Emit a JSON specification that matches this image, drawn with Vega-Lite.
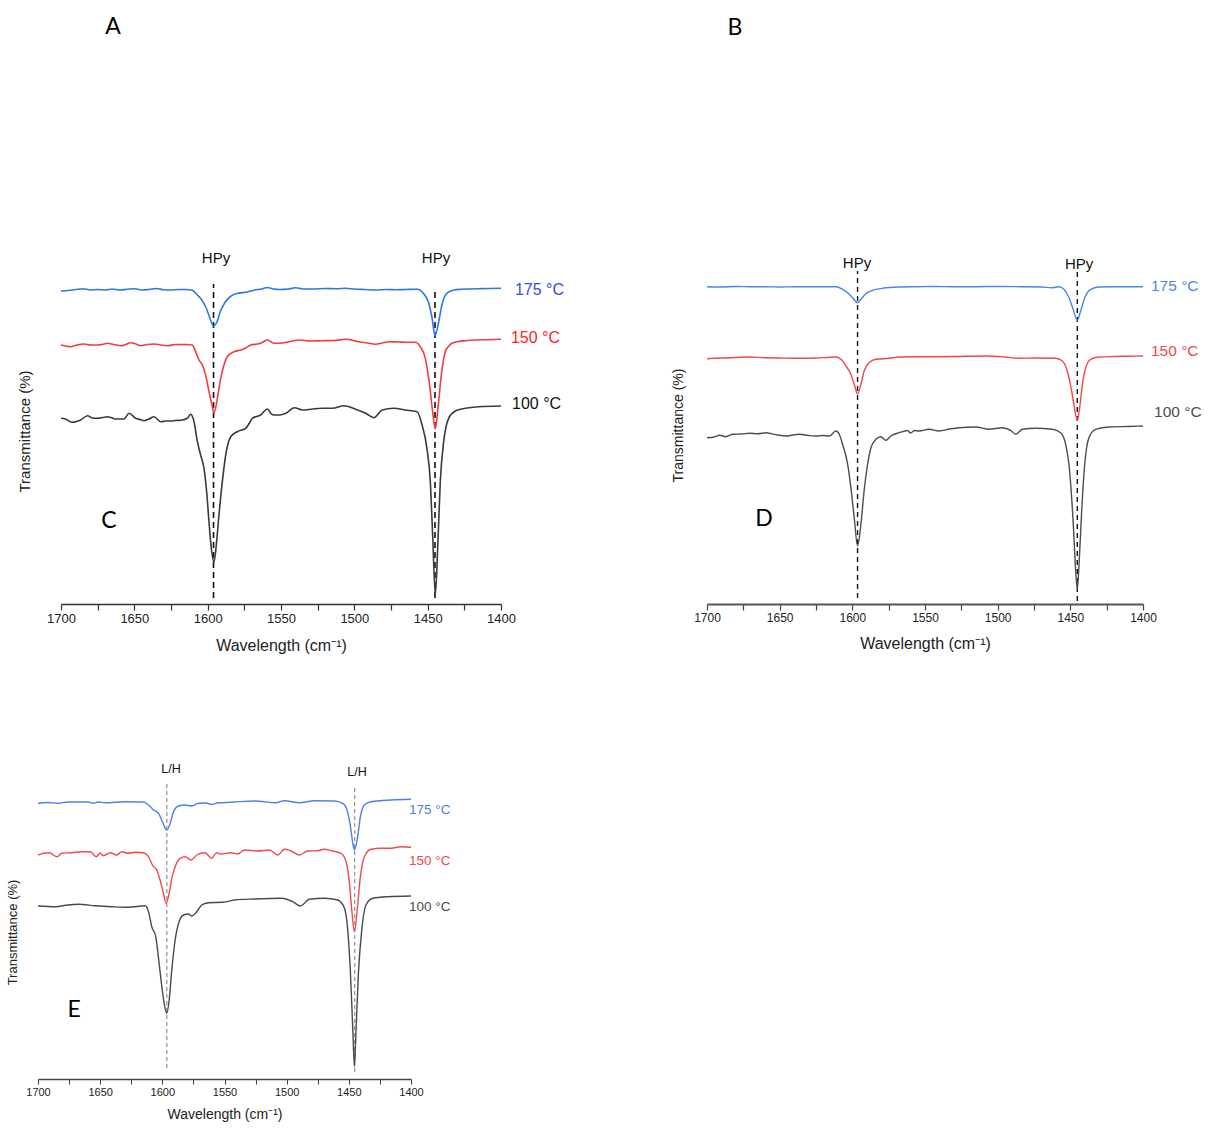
{
  "$schema": "https://vega.github.io/schema/vega-lite/v6.json",
  "background": "white",
  "padding": {"left": 6, "top": 15, "right": 0, "bottom": 5},
  "config": {
    "view": {"stroke": null},
    "font": "Liberation Sans",
    "axis": {"grid": false}
  },
  "datasets": {
    "c_lines": [
      {"temp":"175 °C","wn":1700,"t":313},{"temp":"175 °C","wn":1695,"t":313.5},{"temp":"175 °C","wn":1690,"t":314.5},{"temp":"175 °C","wn":1685,"t":315.3},{"temp":"175 °C","wn":1680,"t":314},{"temp":"175 °C","wn":1675,"t":314.5},{"temp":"175 °C","wn":1670,"t":314},{"temp":"175 °C","wn":1665,"t":315},{"temp":"175 °C","wn":1660,"t":314},{"temp":"175 °C","wn":1655,"t":314.7},{"temp":"175 °C","wn":1650,"t":315.3},{"temp":"175 °C","wn":1645,"t":314},{"temp":"175 °C","wn":1640,"t":314.5},{"temp":"175 °C","wn":1635,"t":315.5},{"temp":"175 °C","wn":1630,"t":314.3},{"temp":"175 °C","wn":1625,"t":314},{"temp":"175 °C","wn":1620,"t":314.5},{"temp":"175 °C","wn":1615,"t":314.5},{"temp":"175 °C","wn":1611,"t":314},{"temp":"175 °C","wn":1607,"t":309},{"temp":"175 °C","wn":1604,"t":304},{"temp":"175 °C","wn":1601,"t":296},{"temp":"175 °C","wn":1598.5,"t":286},{"temp":"175 °C","wn":1596,"t":278},{"temp":"175 °C","wn":1594,"t":281},{"temp":"175 °C","wn":1591.5,"t":292},{"temp":"175 °C","wn":1588,"t":302},{"temp":"175 °C","wn":1584,"t":308},{"temp":"175 °C","wn":1580,"t":310.5},{"temp":"175 °C","wn":1573,"t":312},{"temp":"175 °C","wn":1568,"t":314},{"temp":"175 °C","wn":1563,"t":315},{"temp":"175 °C","wn":1559.5,"t":316.5},{"temp":"175 °C","wn":1555,"t":315},{"temp":"175 °C","wn":1551,"t":314.5},{"temp":"175 °C","wn":1545,"t":315},{"temp":"175 °C","wn":1540,"t":316.3},{"temp":"175 °C","wn":1535,"t":315},{"temp":"175 °C","wn":1528,"t":315},{"temp":"175 °C","wn":1520,"t":315.5},{"temp":"175 °C","wn":1512,"t":315.3},{"temp":"175 °C","wn":1506,"t":315.7},{"temp":"175 °C","wn":1500,"t":315},{"temp":"175 °C","wn":1493,"t":314.5},{"temp":"175 °C","wn":1485.5,"t":314},{"temp":"175 °C","wn":1478,"t":314.5},{"temp":"175 °C","wn":1472,"t":314.3},{"temp":"175 °C","wn":1465,"t":314.5},{"temp":"175 °C","wn":1457,"t":314.7},{"temp":"175 °C","wn":1453,"t":310.7},{"temp":"175 °C","wn":1449.5,"t":302},{"temp":"175 °C","wn":1447,"t":286},{"temp":"175 °C","wn":1445,"t":268.5},{"temp":"175 °C","wn":1442.5,"t":282},{"temp":"175 °C","wn":1440.3,"t":299},{"temp":"175 °C","wn":1437,"t":310.7},{"temp":"175 °C","wn":1432,"t":314},{"temp":"175 °C","wn":1427,"t":314.7},{"temp":"175 °C","wn":1422,"t":315},{"temp":"175 °C","wn":1415,"t":315.3},{"temp":"175 °C","wn":1408,"t":315.5},{"temp":"175 °C","wn":1400,"t":315.7},

      {"temp":"150 °C","wn":1700,"t":259},{"temp":"150 °C","wn":1697,"t":258},{"temp":"150 °C","wn":1693.4,"t":257.3},{"temp":"150 °C","wn":1689,"t":259},{"temp":"150 °C","wn":1684.3,"t":260},{"temp":"150 °C","wn":1680,"t":259},{"temp":"150 °C","wn":1675.2,"t":259},{"temp":"150 °C","wn":1672,"t":259.5},{"temp":"150 °C","wn":1668.4,"t":260.7},{"temp":"150 °C","wn":1664,"t":259.5},{"temp":"150 °C","wn":1659.3,"t":258.3},{"temp":"150 °C","wn":1656,"t":259.5},{"temp":"150 °C","wn":1652.5,"t":261.3},{"temp":"150 °C","wn":1649,"t":260},{"temp":"150 °C","wn":1645.7,"t":258.3},{"temp":"150 °C","wn":1641,"t":259.5},{"temp":"150 °C","wn":1636.6,"t":260},{"temp":"150 °C","wn":1632,"t":259},{"temp":"150 °C","wn":1627.5,"t":258.3},{"temp":"150 °C","wn":1622,"t":259.5},{"temp":"150 °C","wn":1617,"t":259.5},{"temp":"150 °C","wn":1613.9,"t":259.5},{"temp":"150 °C","wn":1610.5,"t":259},{"temp":"150 °C","wn":1608.2,"t":252.3},{"temp":"150 °C","wn":1605.9,"t":244},{"temp":"150 °C","wn":1603.6,"t":239},{"temp":"150 °C","wn":1601.4,"t":229},{"temp":"150 °C","wn":1599.1,"t":212.3},{"temp":"150 °C","wn":1596.8,"t":197.3},{"temp":"150 °C","wn":1595.7,"t":191.3},{"temp":"150 °C","wn":1593.4,"t":205.7},{"temp":"150 °C","wn":1591.1,"t":225.7},{"temp":"150 °C","wn":1588.9,"t":239},{"temp":"150 °C","wn":1586.6,"t":247.3},{"temp":"150 °C","wn":1582,"t":252.3},{"temp":"150 °C","wn":1577.5,"t":254},{"temp":"150 °C","wn":1574,"t":256},{"temp":"150 °C","wn":1570.7,"t":259},{"temp":"150 °C","wn":1566,"t":260},{"temp":"150 °C","wn":1563.9,"t":260.7},{"temp":"150 °C","wn":1559.3,"t":264},{"temp":"150 °C","wn":1554.8,"t":260.7},{"temp":"150 °C","wn":1551,"t":260.7},{"temp":"150 °C","wn":1544.3,"t":262.3},{"temp":"150 °C","wn":1537.6,"t":264},{"temp":"150 °C","wn":1530,"t":263},{"temp":"150 °C","wn":1522,"t":263.3},{"temp":"150 °C","wn":1514,"t":263.5},{"temp":"150 °C","wn":1505.9,"t":264.7},{"temp":"150 °C","wn":1497,"t":262.3},{"temp":"150 °C","wn":1491,"t":261},{"temp":"150 °C","wn":1485.5,"t":259.7},{"temp":"150 °C","wn":1481,"t":261},{"temp":"150 °C","wn":1476.5,"t":262.3},{"temp":"150 °C","wn":1470,"t":262},{"temp":"150 °C","wn":1464,"t":261.7},{"temp":"150 °C","wn":1458.4,"t":261.7},{"temp":"150 °C","wn":1455,"t":257.3},{"temp":"150 °C","wn":1451.6,"t":245.7},{"temp":"150 °C","wn":1449,"t":222.3},{"temp":"150 °C","wn":1446.6,"t":192.3},{"temp":"150 °C","wn":1444.8,"t":175},{"temp":"150 °C","wn":1443,"t":195.7},{"temp":"150 °C","wn":1440.7,"t":229},{"temp":"150 °C","wn":1438,"t":252.3},{"temp":"150 °C","wn":1435.5,"t":258},{"temp":"150 °C","wn":1433.5,"t":260.7},{"temp":"150 °C","wn":1429,"t":262.5},{"temp":"150 °C","wn":1424.4,"t":263.3},{"temp":"150 °C","wn":1418,"t":264},{"temp":"150 °C","wn":1410,"t":264.3},{"temp":"150 °C","wn":1400,"t":264.7},

      {"temp":"100 °C","wn":1700,"t":185.7},{"temp":"100 °C","wn":1697,"t":185},{"temp":"100 °C","wn":1692.3,"t":181.7},{"temp":"100 °C","wn":1689.5,"t":182.5},{"temp":"100 °C","wn":1686.6,"t":184},{"temp":"100 °C","wn":1682,"t":188.3},{"temp":"100 °C","wn":1678.5,"t":186},{"temp":"100 °C","wn":1675.2,"t":185.7},{"temp":"100 °C","wn":1671.5,"t":186.5},{"temp":"100 °C","wn":1668.4,"t":187.3},{"temp":"100 °C","wn":1665,"t":186},{"temp":"100 °C","wn":1662.7,"t":185},{"temp":"100 °C","wn":1657,"t":185},{"temp":"100 °C","wn":1653.6,"t":190.7},{"temp":"100 °C","wn":1649.1,"t":185.7},{"temp":"100 °C","wn":1646,"t":184.5},{"temp":"100 °C","wn":1643.4,"t":183.3},{"temp":"100 °C","wn":1640,"t":185},{"temp":"100 °C","wn":1636.6,"t":187.3},{"temp":"100 °C","wn":1632,"t":182.3},{"temp":"100 °C","wn":1628.5,"t":183},{"temp":"100 °C","wn":1625.2,"t":183},{"temp":"100 °C","wn":1621.8,"t":183.5},{"temp":"100 °C","wn":1618.4,"t":183.7},{"temp":"100 °C","wn":1613.9,"t":185.7},{"temp":"100 °C","wn":1611.6,"t":189.7},{"temp":"100 °C","wn":1609.3,"t":182.3},{"temp":"100 °C","wn":1607,"t":162.3},{"temp":"100 °C","wn":1604.8,"t":149},{"temp":"100 °C","wn":1602.5,"t":135.7},{"temp":"100 °C","wn":1600.7,"t":112.3},{"temp":"100 °C","wn":1599.1,"t":82.3},{"temp":"100 °C","wn":1597.5,"t":55.7},{"temp":"100 °C","wn":1595.7,"t":42},{"temp":"100 °C","wn":1593.9,"t":62.3},{"temp":"100 °C","wn":1592.3,"t":89},{"temp":"100 °C","wn":1590,"t":122.3},{"temp":"100 °C","wn":1587.7,"t":149},{"temp":"100 °C","wn":1584.3,"t":167.3},{"temp":"100 °C","wn":1579.8,"t":172.3},{"temp":"100 °C","wn":1574.1,"t":175.7},{"temp":"100 °C","wn":1571.5,"t":181},{"temp":"100 °C","wn":1569.5,"t":185.7},{"temp":"100 °C","wn":1563.9,"t":189},{"temp":"100 °C","wn":1559.3,"t":195},{"temp":"100 °C","wn":1556.5,"t":190},{"temp":"100 °C","wn":1554.8,"t":189},{"temp":"100 °C","wn":1551,"t":189},{"temp":"100 °C","wn":1546.6,"t":190.7},{"temp":"100 °C","wn":1541,"t":196.3},{"temp":"100 °C","wn":1535.3,"t":194},{"temp":"100 °C","wn":1528.5,"t":195},{"temp":"100 °C","wn":1521.7,"t":195.7},{"temp":"100 °C","wn":1514.9,"t":195.7},{"temp":"100 °C","wn":1507,"t":198.3},{"temp":"100 °C","wn":1499.1,"t":194.7},{"temp":"100 °C","wn":1492.3,"t":190.7},{"temp":"100 °C","wn":1486.6,"t":186.3},{"temp":"100 °C","wn":1481,"t":194},{"temp":"100 °C","wn":1473.1,"t":195.7},{"temp":"100 °C","wn":1465.2,"t":194},{"temp":"100 °C","wn":1457.2,"t":192.3},{"temp":"100 °C","wn":1453.8,"t":179},{"temp":"100 °C","wn":1450.5,"t":155.7},{"temp":"100 °C","wn":1448.2,"t":122.3},{"temp":"100 °C","wn":1446.6,"t":69},{"temp":"100 °C","wn":1444.8,"t":9},{"temp":"100 °C","wn":1443,"t":62.3},{"temp":"100 °C","wn":1441.4,"t":122.3},{"temp":"100 °C","wn":1439.1,"t":162.3},{"temp":"100 °C","wn":1435.7,"t":185.7},{"temp":"100 °C","wn":1431.2,"t":193},{"temp":"100 °C","wn":1424.4,"t":195.7},{"temp":"100 °C","wn":1415.4,"t":197.3},{"temp":"100 °C","wn":1400,"t":198}
    ],
    "c_guides": [
      {"wn":1596,"t":6,"t2":320},
      {"wn":1445,"t":6,"t2":316}
    ],
    "c_text": [
      {"kind":"peak","wn":1594.3,"t":346,"label":"HPy"},
      {"kind":"peak","wn":1444.3,"t":346,"label":"HPy"},
      {"kind":"temp","wn":1390.5,"t":314,"temp":"175 °C"},
      {"kind":"temp","wn":1393.2,"t":266,"temp":"150 °C"},
      {"kind":"temp","wn":1392.5,"t":200,"temp":"100 °C"},
      {"kind":"panel","wn":1667.3,"t":83,"label":"C"},
      {"kind":"panel","wn":1664.5,"t":577,"label":"A"}
    ],
    "d_lines": [
      {"temp":"175 °C","wn":1700,"t":317.3},{"temp":"175 °C","wn":1690,"t":317},{"temp":"175 °C","wn":1680,"t":317.5},{"temp":"175 °C","wn":1670,"t":317.2},{"temp":"175 °C","wn":1660,"t":317.3},{"temp":"175 °C","wn":1650,"t":317},{"temp":"175 °C","wn":1640,"t":317.3},{"temp":"175 °C","wn":1630,"t":317.2},{"temp":"175 °C","wn":1620,"t":317.3},{"temp":"175 °C","wn":1611.3,"t":317.3},{"temp":"175 °C","wn":1606.7,"t":314.7},{"temp":"175 °C","wn":1603.2,"t":311.3},{"temp":"175 °C","wn":1599.8,"t":306.3},{"temp":"175 °C","wn":1596.4,"t":301.3},{"temp":"175 °C","wn":1594.1,"t":304.7},{"temp":"175 °C","wn":1590.7,"t":310.3},{"temp":"175 °C","wn":1586.1,"t":313.7},{"temp":"175 °C","wn":1579.2,"t":315.7},{"temp":"175 °C","wn":1567.8,"t":317},{"temp":"175 °C","wn":1555,"t":317.3},{"temp":"175 °C","wn":1545,"t":317.5},{"temp":"175 °C","wn":1530,"t":317.2},{"temp":"175 °C","wn":1515,"t":317.3},{"temp":"175 °C","wn":1500,"t":317.5},{"temp":"175 °C","wn":1485,"t":317.3},{"temp":"175 °C","wn":1470,"t":317},{"temp":"175 °C","wn":1462.4,"t":316.3},{"temp":"175 °C","wn":1457.8,"t":317.3},{"temp":"175 °C","wn":1454.4,"t":314.7},{"temp":"175 °C","wn":1450.9,"t":306.3},{"temp":"175 °C","wn":1448.1,"t":294.7},{"temp":"175 °C","wn":1445.2,"t":283.7},{"temp":"175 °C","wn":1442.9,"t":293},{"temp":"175 °C","wn":1440.1,"t":306.3},{"temp":"175 °C","wn":1436,"t":314.7},{"temp":"175 °C","wn":1430.3,"t":317},{"temp":"175 °C","wn":1420,"t":317.3},{"temp":"175 °C","wn":1410,"t":317.3},{"temp":"175 °C","wn":1400,"t":317.3},

      {"temp":"150 °C","wn":1700,"t":245.3},{"temp":"150 °C","wn":1690,"t":246},{"temp":"150 °C","wn":1680,"t":246.5},{"temp":"150 °C","wn":1670.7,"t":247},{"temp":"150 °C","wn":1660,"t":246.3},{"temp":"150 °C","wn":1650,"t":246},{"temp":"150 °C","wn":1636.4,"t":245.7},{"temp":"150 °C","wn":1625,"t":246},{"temp":"150 °C","wn":1618,"t":246.5},{"temp":"150 °C","wn":1611.3,"t":247},{"temp":"150 °C","wn":1607.8,"t":244.7},{"temp":"150 °C","wn":1604.4,"t":238},{"temp":"150 °C","wn":1601,"t":229.7},{"temp":"150 °C","wn":1598.7,"t":219.7},{"temp":"150 °C","wn":1596.4,"t":210.3},{"temp":"150 °C","wn":1594.1,"t":219.7},{"temp":"150 °C","wn":1591.9,"t":233},{"temp":"150 °C","wn":1588.4,"t":241.3},{"temp":"150 °C","wn":1583.8,"t":244.7},{"temp":"150 °C","wn":1574.7,"t":245.7},{"temp":"150 °C","wn":1567.8,"t":247},{"temp":"150 °C","wn":1555,"t":247.3},{"temp":"150 °C","wn":1547.2,"t":247.3},{"temp":"150 °C","wn":1530,"t":247.5},{"temp":"150 °C","wn":1508.3,"t":248},{"temp":"150 °C","wn":1495,"t":247},{"temp":"150 °C","wn":1485.3,"t":245.7},{"temp":"150 °C","wn":1475,"t":246},{"temp":"150 °C","wn":1460.1,"t":245.7},{"temp":"150 °C","wn":1455.5,"t":243},{"temp":"150 °C","wn":1452.1,"t":233},{"temp":"150 °C","wn":1449.1,"t":213},{"temp":"150 °C","wn":1447.2,"t":196.3},{"temp":"150 °C","wn":1445.2,"t":183.7},{"temp":"150 °C","wn":1443.6,"t":196.3},{"temp":"150 °C","wn":1441.7,"t":219.7},{"temp":"150 °C","wn":1439.4,"t":236.3},{"temp":"150 °C","wn":1436,"t":244.7},{"temp":"150 °C","wn":1430.3,"t":247},{"temp":"150 °C","wn":1420,"t":247.5},{"temp":"150 °C","wn":1410,"t":247.8},{"temp":"150 °C","wn":1400,"t":248},

      {"temp":"100 °C","wn":1700,"t":166.3},{"temp":"100 °C","wn":1695,"t":167},{"temp":"100 °C","wn":1691.3,"t":168.7},{"temp":"100 °C","wn":1687,"t":167.3},{"temp":"100 °C","wn":1682.2,"t":169.7},{"temp":"100 °C","wn":1676,"t":170},{"temp":"100 °C","wn":1670.7,"t":170.7},{"temp":"100 °C","wn":1665,"t":170.3},{"temp":"100 °C","wn":1659.3,"t":171.3},{"temp":"100 °C","wn":1655,"t":170},{"temp":"100 °C","wn":1651.3,"t":169},{"temp":"100 °C","wn":1645.6,"t":168},{"temp":"100 °C","wn":1641,"t":169},{"temp":"100 °C","wn":1636.4,"t":169.7},{"temp":"100 °C","wn":1630,"t":168.5},{"temp":"100 °C","wn":1625,"t":168},{"temp":"100 °C","wn":1620,"t":168.5},{"temp":"100 °C","wn":1615.8,"t":168},{"temp":"100 °C","wn":1611.3,"t":173},{"temp":"100 °C","wn":1609,"t":169.7},{"temp":"100 °C","wn":1606.7,"t":159.7},{"temp":"100 °C","wn":1603.2,"t":139.7},{"temp":"100 °C","wn":1601,"t":116.3},{"temp":"100 °C","wn":1598.7,"t":86.3},{"temp":"100 °C","wn":1596.4,"t":58},{"temp":"100 °C","wn":1594.1,"t":79.7},{"temp":"100 °C","wn":1591.9,"t":113},{"temp":"100 °C","wn":1589.5,"t":139.7},{"temp":"100 °C","wn":1587.2,"t":156.3},{"temp":"100 °C","wn":1583.8,"t":164.7},{"temp":"100 °C","wn":1580.4,"t":167.3},{"temp":"100 °C","wn":1577,"t":163.7},{"temp":"100 °C","wn":1573.5,"t":168},{"temp":"100 °C","wn":1567.8,"t":171.3},{"temp":"100 °C","wn":1562,"t":173.5},{"temp":"100 °C","wn":1560,"t":171},{"temp":"100 °C","wn":1557,"t":173.5},{"temp":"100 °C","wn":1554.1,"t":173},{"temp":"100 °C","wn":1547.2,"t":174.7},{"temp":"100 °C","wn":1540.4,"t":173},{"temp":"100 °C","wn":1533,"t":175},{"temp":"100 °C","wn":1526.6,"t":176.3},{"temp":"100 °C","wn":1515.1,"t":177},{"temp":"100 °C","wn":1506,"t":174.7},{"temp":"100 °C","wn":1496.8,"t":176.3},{"temp":"100 °C","wn":1491.1,"t":173.7},{"temp":"100 °C","wn":1487.6,"t":169.7},{"temp":"100 °C","wn":1483,"t":174.7},{"temp":"100 °C","wn":1473.9,"t":175.7},{"temp":"100 °C","wn":1462.4,"t":174.7},{"temp":"100 °C","wn":1456.7,"t":171.3},{"temp":"100 °C","wn":1453.2,"t":159.7},{"temp":"100 °C","wn":1450.5,"t":133},{"temp":"100 °C","wn":1448.1,"t":83},{"temp":"100 °C","wn":1446.3,"t":33},{"temp":"100 °C","wn":1445.2,"t":14.7},{"temp":"100 °C","wn":1444,"t":39.7},{"temp":"100 °C","wn":1442.2,"t":93},{"temp":"100 °C","wn":1440.1,"t":139.7},{"temp":"100 °C","wn":1437.2,"t":166.3},{"temp":"100 °C","wn":1432.6,"t":174.7},{"temp":"100 °C","wn":1423.4,"t":177},{"temp":"100 °C","wn":1410,"t":177.5},{"temp":"100 °C","wn":1400,"t":178}
    ],
    "d_guides": [
      {"wn":1596.4,"t":6,"t2":333},
      {"wn":1445.2,"t":3,"t2":333}
    ],
    "d_text": [
      {"kind":"peak","wn":1596.8,"t":341,"label":"HPy"},
      {"kind":"peak","wn":1444,"t":340,"label":"HPy"},
      {"kind":"temp","wn":1394.5,"t":318,"temp":"175 °C"},
      {"kind":"temp","wn":1394.5,"t":253,"temp":"150 °C"},
      {"kind":"temp","wn":1392.4,"t":192,"temp":"100 °C"},
      {"kind":"panel","wn":1660.8,"t":85,"label":"D"},
      {"kind":"panel","wn":1680.7,"t":576,"label":"B"}
    ],
    "e_lines": [
      {"temp":"175 °C","wn":1700,"t":275.7},{"temp":"175 °C","wn":1692,"t":276.5},{"temp":"175 °C","wn":1684,"t":275.7},{"temp":"175 °C","wn":1676,"t":277},{"temp":"175 °C","wn":1668,"t":277},{"temp":"175 °C","wn":1660,"t":277},{"temp":"175 °C","wn":1655.6,"t":275.7},{"temp":"175 °C","wn":1651.5,"t":277},{"temp":"175 °C","wn":1646,"t":276.3},{"temp":"175 °C","wn":1630,"t":277.3},{"temp":"175 °C","wn":1615.2,"t":277},{"temp":"175 °C","wn":1611.1,"t":274},{"temp":"175 °C","wn":1607.1,"t":269},{"temp":"175 °C","wn":1603.1,"t":265.7},{"temp":"175 °C","wn":1599.9,"t":257.3},{"temp":"175 °C","wn":1597.7,"t":250.7},{"temp":"175 °C","wn":1596.4,"t":249},{"temp":"175 °C","wn":1593.7,"t":255.7},{"temp":"175 °C","wn":1591,"t":267.3},{"temp":"175 °C","wn":1587,"t":273},{"temp":"175 °C","wn":1581.7,"t":274},{"temp":"175 °C","wn":1576.3,"t":273},{"temp":"175 °C","wn":1571,"t":275.7},{"temp":"175 °C","wn":1565,"t":276},{"temp":"175 °C","wn":1560.3,"t":274.5},{"temp":"175 °C","wn":1555,"t":276.3},{"temp":"175 °C","wn":1551,"t":276.3},{"temp":"175 °C","wn":1542,"t":277},{"temp":"175 °C","wn":1525.9,"t":278},{"temp":"175 °C","wn":1508.5,"t":276.3},{"temp":"175 °C","wn":1501.8,"t":278.3},{"temp":"175 °C","wn":1489.7,"t":276.3},{"temp":"175 °C","wn":1477.7,"t":278.3},{"temp":"175 °C","wn":1461.6,"t":278},{"temp":"175 °C","wn":1454.9,"t":275.7},{"temp":"175 °C","wn":1451.4,"t":269},{"temp":"175 °C","wn":1448.7,"t":252.3},{"temp":"175 °C","wn":1446.8,"t":235.7},{"temp":"175 °C","wn":1445.5,"t":229},{"temp":"175 °C","wn":1443.3,"t":239},{"temp":"175 °C","wn":1440.7,"t":262.3},{"temp":"175 °C","wn":1437.5,"t":274},{"temp":"175 °C","wn":1432.1,"t":277.3},{"temp":"175 °C","wn":1416,"t":279},{"temp":"175 °C","wn":1400,"t":279.7},

      {"temp":"150 °C","wn":1700,"t":224},{"temp":"150 °C","wn":1695.5,"t":225.7},{"temp":"150 °C","wn":1691,"t":226.3},{"temp":"150 °C","wn":1684.7,"t":222.3},{"temp":"150 °C","wn":1680.7,"t":225.7},{"temp":"150 °C","wn":1672.6,"t":226.3},{"temp":"150 °C","wn":1664.6,"t":227.3},{"temp":"150 °C","wn":1657.9,"t":227.3},{"temp":"150 °C","wn":1653.2,"t":222.3},{"temp":"150 °C","wn":1650,"t":225.7},{"temp":"150 °C","wn":1647.3,"t":223.3},{"temp":"150 °C","wn":1641.9,"t":226.3},{"temp":"150 °C","wn":1636.6,"t":224},{"temp":"150 °C","wn":1632.5,"t":227.3},{"temp":"150 °C","wn":1627.2,"t":225.7},{"temp":"150 °C","wn":1621.8,"t":226.7},{"temp":"150 °C","wn":1615.2,"t":226.3},{"temp":"150 °C","wn":1611.1,"t":222.3},{"temp":"150 °C","wn":1608,"t":214},{"temp":"150 °C","wn":1604.5,"t":209},{"temp":"150 °C","wn":1601.8,"t":199},{"temp":"150 °C","wn":1599.1,"t":185.7},{"temp":"150 °C","wn":1597,"t":175.7},{"temp":"150 °C","wn":1594.5,"t":185.7},{"temp":"150 °C","wn":1592.4,"t":200.7},{"temp":"150 °C","wn":1589.7,"t":212.3},{"temp":"150 °C","wn":1585.7,"t":220.7},{"temp":"150 °C","wn":1581.7,"t":222.3},{"temp":"150 °C","wn":1576.9,"t":219},{"temp":"150 °C","wn":1572.3,"t":224},{"temp":"150 °C","wn":1565.6,"t":226.3},{"temp":"150 °C","wn":1560.3,"t":220.7},{"temp":"150 °C","wn":1556.3,"t":226.3},{"temp":"150 °C","wn":1552.7,"t":225},{"temp":"150 °C","wn":1544.6,"t":226.3},{"temp":"150 °C","wn":1539.3,"t":225},{"temp":"150 °C","wn":1533.9,"t":229},{"temp":"150 °C","wn":1523.2,"t":228},{"temp":"150 °C","wn":1513.8,"t":229},{"temp":"150 °C","wn":1507.1,"t":224},{"temp":"150 °C","wn":1501.8,"t":229.7},{"temp":"150 °C","wn":1496.5,"t":228},{"temp":"150 °C","wn":1489.7,"t":224},{"temp":"150 °C","wn":1483,"t":228},{"temp":"150 °C","wn":1475,"t":228.3},{"temp":"150 °C","wn":1469.6,"t":229.7},{"temp":"150 °C","wn":1464.2,"t":228.3},{"temp":"150 °C","wn":1456.2,"t":225.7},{"temp":"150 °C","wn":1452.2,"t":217.3},{"temp":"150 °C","wn":1449.5,"t":195.7},{"temp":"150 °C","wn":1447.4,"t":165.7},{"temp":"150 °C","wn":1445.5,"t":147.3},{"temp":"150 °C","wn":1443.3,"t":169},{"temp":"150 °C","wn":1440.7,"t":202.3},{"temp":"150 °C","wn":1437.5,"t":222.3},{"temp":"150 °C","wn":1432.1,"t":229.7},{"temp":"150 °C","wn":1424.1,"t":230.7},{"temp":"150 °C","wn":1416,"t":230.7},{"temp":"150 °C","wn":1408,"t":232.3},{"temp":"150 °C","wn":1400,"t":231.7},

      {"temp":"100 °C","wn":1700,"t":173},{"temp":"100 °C","wn":1686,"t":172.3},{"temp":"100 °C","wn":1676,"t":174},{"temp":"100 °C","wn":1667.4,"t":174.7},{"temp":"100 °C","wn":1654,"t":173.3},{"temp":"100 °C","wn":1640.6,"t":172.3},{"temp":"100 °C","wn":1627.2,"t":171.7},{"temp":"100 °C","wn":1613.8,"t":173.3},{"temp":"100 °C","wn":1611.1,"t":167.3},{"temp":"100 °C","wn":1608.5,"t":152.3},{"temp":"100 °C","wn":1605.3,"t":142.3},{"temp":"100 °C","wn":1602.6,"t":115.7},{"temp":"100 °C","wn":1600.4,"t":92.3},{"temp":"100 °C","wn":1598.3,"t":74},{"temp":"100 °C","wn":1596.4,"t":65.7},{"temp":"100 °C","wn":1594.5,"t":79},{"temp":"100 °C","wn":1592.4,"t":109},{"temp":"100 °C","wn":1589.7,"t":139},{"temp":"100 °C","wn":1586.5,"t":157.3},{"temp":"100 °C","wn":1583,"t":164},{"temp":"100 °C","wn":1579,"t":165},{"temp":"100 °C","wn":1576.3,"t":163},{"temp":"100 °C","wn":1572.3,"t":167.3},{"temp":"100 °C","wn":1568.3,"t":174},{"temp":"100 °C","wn":1563,"t":176.3},{"temp":"100 °C","wn":1551,"t":176.7},{"temp":"100 °C","wn":1542,"t":179},{"temp":"100 °C","wn":1525.9,"t":180},{"temp":"100 °C","wn":1504.4,"t":180.7},{"temp":"100 °C","wn":1495.1,"t":177.3},{"temp":"100 °C","wn":1488.9,"t":173},{"temp":"100 °C","wn":1481.7,"t":179.7},{"temp":"100 °C","wn":1469.6,"t":180.7},{"temp":"100 °C","wn":1458.9,"t":179},{"temp":"100 °C","wn":1453.5,"t":170.7},{"temp":"100 °C","wn":1450.9,"t":149},{"temp":"100 °C","wn":1448.7,"t":105.7},{"temp":"100 °C","wn":1446.8,"t":49},{"temp":"100 °C","wn":1445.5,"t":12.3},{"temp":"100 °C","wn":1444.2,"t":49},{"temp":"100 °C","wn":1442.3,"t":105.7},{"temp":"100 °C","wn":1439.6,"t":149},{"temp":"100 °C","wn":1436.2,"t":174},{"temp":"100 °C","wn":1430.8,"t":180.7},{"temp":"100 °C","wn":1418.7,"t":182.3},{"temp":"100 °C","wn":1400,"t":183}
    ],
    "e_guides": [
      {"wn":1596.4,"t":11,"t2":297},
      {"wn":1445.3,"t":7,"t2":294}
    ],
    "e_text": [
      {"kind":"peak","wn":1593,"t":310,"label":"L/H"},
      {"kind":"peak","wn":1443.4,"t":307,"label":"L/H"},
      {"kind":"temp","wn":1401.6,"t":269,"temp":"175 °C"},
      {"kind":"temp","wn":1401.6,"t":218,"temp":"150 °C"},
      {"kind":"temp","wn":1401.6,"t":172,"temp":"100 °C"},
      {"kind":"panel","wn":1671,"t":69,"label":"E"}
    ]
  },
  "columns": 2,
  "bounds": "flush",
  "spacing": {"row": 155, "column": 205},
  "resolve": {"scale": {"color": "independent"}},
  "concat": [
    {
      "width": 464,
      "height": 360,
      "resolve": {"scale": {"color": "independent"}},
      "encoding": {
        "x": {
          "field": "wn", "type": "quantitative",
          "scale": {"domain": [1700, 1400], "range": [23, 463], "nice": false, "zero": false},
          "axis": {
            "title": "Wavelength (cm⁻¹)", "values": [1700,1675,1650,1625,1600,1575,1550,1525,1500,1475,1450,1425,1400],
            "format": "d", "labelExpr": "datum.value % 50 === 0 ? datum.label : ''",
            "labelOverlap": false, "labelFlush": false, "labelFontSize": 13, "labelColor": "#222",
            "tickSize": 6, "tickWidth": 1.2, "tickColor": "#333", "labelPadding": 2,
            "domainColor": "#333", "domainWidth": 1.5,
            "titleFontSize": 16, "titleFontWeight": "normal", "titleColor": "#222", "titleBaseline": "middle", "titleY": 41
          }
        },
        "y": {
          "field": "t", "type": "quantitative",
          "scale": {"domain": [0, 360], "nice": false, "zero": false},
          "axis": {
            "title": "Transmittance (%)", "domain": false, "ticks": false, "labels": false,
            "titleFontSize": 15, "titleFontWeight": "normal", "titleColor": "#222",
            "titleBaseline": "middle", "titleX": -14, "titleY": 187
          }
        }
      },
      "layer": [
        {
          "data": {"name": "c_guides"},
          "mark": {"type": "rule", "color": "#111", "strokeWidth": 1.6, "strokeDash": [6, 4]},
          "encoding": {"y2": {"field": "t2"}}
        },
        {
          "data": {"name": "c_lines"},
          "mark": {"type": "line", "strokeWidth": 1.6, "interpolate": "monotone"},
          "encoding": {
            "color": {"field": "temp", "type": "nominal", "legend": null,
              "scale": {"domain": ["175 °C", "150 °C", "100 °C"], "range": ["#2d78e6", "#ef3e3e", "#3a3a3a"]}}
          }
        },
        {
          "data": {"name": "c_text"},
          "transform": [{"filter": "datum.kind === 'peak'"}],
          "mark": {"type": "text", "fontSize": 15, "color": "#111", "align": "center", "baseline": "middle"},
          "encoding": {"text": {"field": "label"}}
        },
        {
          "data": {"name": "c_text"},
          "transform": [{"filter": "datum.kind === 'temp'"}],
          "mark": {"type": "text", "fontSize": 16, "align": "left", "baseline": "middle"},
          "encoding": {
            "text": {"field": "temp"},
            "color": {"field": "temp", "type": "nominal", "legend": null,
              "scale": {"domain": ["175 °C", "150 °C", "100 °C"], "range": ["#3448f0", "#ff2020", "#111111"]}}
          }
        },
        {
          "data": {"name": "c_text"},
          "transform": [{"filter": "datum.kind === 'panel'"}],
          "mark": {"type": "text", "font": "Lato", "fontSize": 23, "color": "#000", "align": "center", "baseline": "middle"},
          "encoding": {"text": {"field": "label"}}
        }
      ]
    },
    {
      "width": 436,
      "height": 360,
      "encoding": {
        "x": {
          "field": "wn", "type": "quantitative",
          "scale": {"domain": [1700, 1400], "nice": false, "zero": false},
          "axis": {
            "title": "Wavelength (cm⁻¹)", "values": [1700,1675,1650,1625,1600,1575,1550,1525,1500,1475,1450,1425,1400],
            "format": "d", "labelExpr": "datum.value % 50 === 0 ? datum.label : ''",
            "labelOverlap": false, "labelFlush": false, "labelFontSize": 12, "labelColor": "#222",
            "tickSize": 6, "tickWidth": 1.2, "tickColor": "#444", "labelPadding": 2,
            "domainColor": "#555", "domainWidth": 2,
            "titleFontSize": 16, "titleFontWeight": "normal", "titleColor": "#222", "titleBaseline": "middle", "titleY": 39
          }
        },
        "y": {
          "field": "t", "type": "quantitative",
          "scale": {"domain": [0, 360], "nice": false, "zero": false},
          "axis": {
            "title": "Transmittance (%)", "domain": false, "ticks": false, "labels": false,
            "titleFontSize": 14, "titleFontWeight": "normal", "titleColor": "#222",
            "titleBaseline": "middle", "titleX": -29, "titleY": 181
          }
        }
      },
      "layer": [
        {
          "data": {"name": "d_guides"},
          "mark": {"type": "rule", "color": "#111", "strokeWidth": 1.4, "strokeDash": [5, 4]},
          "encoding": {"y2": {"field": "t2"}}
        },
        {
          "data": {"name": "d_lines"},
          "mark": {"type": "line", "strokeWidth": 1.4, "interpolate": "monotone"},
          "encoding": {
            "color": {"field": "temp", "type": "nominal", "legend": null,
              "scale": {"domain": ["175 °C", "150 °C", "100 °C"], "range": ["#4a86e8", "#f04848", "#4d4d4d"]}}
          }
        },
        {
          "data": {"name": "d_text"},
          "transform": [{"filter": "datum.kind === 'peak'"}],
          "mark": {"type": "text", "fontSize": 15, "color": "#111", "align": "center", "baseline": "middle"},
          "encoding": {"text": {"field": "label"}}
        },
        {
          "data": {"name": "d_text"},
          "transform": [{"filter": "datum.kind === 'temp'"}],
          "mark": {"type": "text", "fontSize": 15.5, "align": "left", "baseline": "middle"},
          "encoding": {
            "text": {"field": "temp"},
            "color": {"field": "temp", "type": "nominal", "legend": null}
          }
        },
        {
          "data": {"name": "d_text"},
          "transform": [{"filter": "datum.kind === 'panel'"}],
          "mark": {"type": "text", "font": "Lato", "fontSize": 23, "color": "#000", "align": "center", "baseline": "middle"},
          "encoding": {"text": {"field": "label"}}
        }
      ]
    },
    {
      "width": 373,
      "height": 320,
      "encoding": {
        "x": {
          "field": "wn", "type": "quantitative",
          "scale": {"domain": [1700, 1400], "nice": false, "zero": false},
          "axis": {
            "title": "Wavelength (cm⁻¹)", "values": [1700,1675,1650,1625,1600,1575,1550,1525,1500,1475,1450,1425,1400],
            "format": "d", "labelExpr": "datum.value % 50 === 0 ? datum.label : ''",
            "labelOverlap": false, "labelFlush": false, "labelFontSize": 11, "labelColor": "#222",
            "tickSize": 5, "tickWidth": 1.1, "tickColor": "#444", "labelPadding": 2,
            "domainColor": "#444", "domainWidth": 1.5,
            "titleFontSize": 14, "titleFontWeight": "normal", "titleColor": "#222", "titleBaseline": "middle", "titleY": 35
          }
        },
        "y": {
          "field": "t", "type": "quantitative",
          "scale": {"domain": [0, 320], "nice": false, "zero": false},
          "axis": {
            "title": "Transmittance (%)", "domain": false, "ticks": false, "labels": false,
            "titleFontSize": 13, "titleFontWeight": "normal", "titleColor": "#222",
            "titleBaseline": "middle", "titleX": -26, "titleY": 173
          }
        }
      },
      "layer": [
        {
          "data": {"name": "e_guides"},
          "mark": {"type": "rule", "color": "#999", "strokeWidth": 1.3, "strokeDash": [4, 3]},
          "encoding": {"y2": {"field": "t2"}}
        },
        {
          "data": {"name": "e_lines"},
          "mark": {"type": "line", "strokeWidth": 1.4, "interpolate": "monotone"},
          "encoding": {
            "color": {"field": "temp", "type": "nominal", "legend": null,
              "scale": {"domain": ["175 °C", "150 °C", "100 °C"], "range": ["#4a80ec", "#f04a4a", "#4a4a4a"]}}
          }
        },
        {
          "data": {"name": "e_text"},
          "transform": [{"filter": "datum.kind === 'peak'"}],
          "mark": {"type": "text", "fontSize": 12.5, "color": "#111", "align": "center", "baseline": "middle"},
          "encoding": {"text": {"field": "label"}}
        },
        {
          "data": {"name": "e_text"},
          "transform": [{"filter": "datum.kind === 'temp'"}],
          "mark": {"type": "text", "fontSize": 13.5, "align": "left", "baseline": "middle"},
          "encoding": {
            "text": {"field": "temp"},
            "color": {"field": "temp", "type": "nominal", "legend": null}
          }
        },
        {
          "data": {"name": "e_text"},
          "transform": [{"filter": "datum.kind === 'panel'"}],
          "mark": {"type": "text", "font": "Lato", "fontSize": 23, "color": "#000", "align": "center", "baseline": "middle"},
          "encoding": {"text": {"field": "label"}}
        }
      ]
    }
  ]
}
